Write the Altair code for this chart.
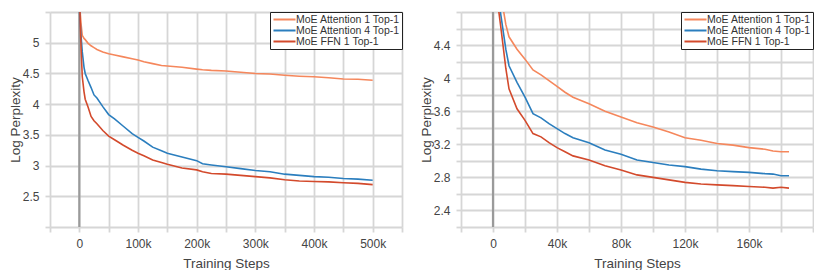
import altair as alt
import pandas as pd

SERIES = ["MoE Attention 1 Top-1", "MoE Attention 4 Top-1", "MoE FFN 1 Top-1"]
COLORS = ["#F5875C", "#2B7EBE", "#D34A2C"]

# Left panel
L_x = [0, 1000, 3000, 5000, 8000, 10000, 15000, 20000, 25000, 30000, 40000, 50000, 60000,
       75000, 90000, 100000, 110000, 125000, 140000, 150000, 175000, 200000, 210000,
       225000, 250000, 275000, 300000, 325000, 350000, 375000, 400000, 425000, 450000,
       475000, 500000]
L_att1 = [5.8, 5.55, 5.3, 5.12, 5.07, 5.05, 4.99, 4.95, 4.92, 4.89, 4.85, 4.82, 4.8,
          4.77, 4.74, 4.72, 4.69, 4.66, 4.63, 4.62, 4.6, 4.57, 4.56,
          4.55, 4.54, 4.52, 4.5, 4.49, 4.47, 4.455, 4.445, 4.43, 4.41,
          4.405, 4.39]
L_att4 = [5.6, 5.4, 5.1, 4.85, 4.6, 4.5, 4.38, 4.27, 4.15, 4.1, 3.96, 3.83, 3.76,
          3.64, 3.52, 3.46, 3.4, 3.3, 3.24, 3.2, 3.14, 3.08, 3.03,
          3.01, 2.98, 2.95, 2.92, 2.9, 2.86, 2.84, 2.82, 2.81, 2.79,
          2.78, 2.76]
L_ffn = [5.8, 5.5, 4.9, 4.45, 4.2, 4.08, 3.95, 3.8, 3.73, 3.68, 3.57, 3.48, 3.42,
         3.33, 3.25, 3.2, 3.16, 3.09, 3.05, 3.02, 2.96, 2.93, 2.9,
         2.87, 2.86, 2.84, 2.82, 2.8, 2.77, 2.75, 2.74, 2.735, 2.72,
         2.71, 2.69]

# Right panel
R_x = [0, 3000, 5000, 8000, 10000, 15000, 20000, 25000, 30000, 35000, 40000, 45000, 50000,
       60000, 70000, 80000, 90000, 100000, 110000, 120000, 130000, 140000, 150000,
       160000, 170000, 175000, 180000, 185000]
R_att1 = [6.0, 5.3, 5.0, 4.65, 4.5, 4.35, 4.23, 4.1, 4.04, 3.97, 3.9, 3.83, 3.77,
          3.69, 3.6, 3.53, 3.46, 3.41, 3.35, 3.28, 3.25, 3.21, 3.19,
          3.16, 3.14, 3.12, 3.11, 3.11]
R_att4 = [6.0, 5.0, 4.75, 4.35, 4.15, 3.95, 3.77, 3.57, 3.52, 3.45, 3.39, 3.33, 3.28,
          3.22, 3.13, 3.08, 3.01, 2.98, 2.95, 2.93, 2.9, 2.88, 2.87,
          2.86, 2.845, 2.84, 2.82, 2.82]
R_ffn = [6.0, 4.9, 4.6, 4.12, 3.87, 3.63, 3.49, 3.33, 3.29, 3.22, 3.16, 3.11, 3.06,
         3.01, 2.94, 2.89, 2.83, 2.8, 2.77, 2.74, 2.72, 2.71, 2.7,
         2.69, 2.68, 2.67, 2.68, 2.67]

L_xticks = list(range(-50000, 550001, 50000))
L_yticks = [2.0, 2.5, 3.0, 3.5, 4.0, 4.5, 5.0, 5.5]
R_xticks = list(range(-20000, 200001, 20000))
R_yticks = [round(2.2 + 0.2 * i, 1) for i in range(14)]

FONT = "Liberation Sans"


def long_df(xs, ys_list):
    rows = []
    for name, ys in zip(SERIES, ys_list):
        for i, (x, y) in enumerate(zip(xs, ys)):
            rows.append({"step": x, "val": y, "series": name, "order": i})
    return pd.DataFrame(rows)


def panel(df, xdom, xticks, xlabel_every, xlabel_max, ydom, yticks, ylabel_expr):
    xs = alt.Scale(domain=xdom, nice=False, zero=False)
    ys = alt.Scale(domain=ydom, nice=False, zero=False)
    xlabel_expr = (
        f"(datum.value % {xlabel_every} == 0) && (datum.value >= 0) && (datum.value <= {xlabel_max}) ? "
        "(datum.value == 0 ? '0' : format(datum.value / 1000, 'd') + 'k') : ''"
    )
    xaxis = alt.Axis(values=xticks, labelExpr=xlabel_expr, labelOverlap=False,
                     title="Training Steps")
    yaxis = alt.Axis(values=yticks, labelExpr=ylabel_expr, labelOverlap=False,
                     title="Log Perplexity")
    lines = alt.Chart(df).mark_line(strokeWidth=1.6, clip=True).encode(
        x=alt.X("step:Q", scale=xs, axis=xaxis),
        y=alt.Y("val:Q", scale=ys, axis=yaxis),
        color=alt.Color("series:N", scale=alt.Scale(domain=SERIES, range=COLORS),
                        legend=alt.Legend(title=None, orient="top-right", offset=0,
                                          strokeColor="#222", fillColor="white",
                                          padding=2, symbolType="M-2.45,0H2.45",
                                          symbolSize=81, symbolStrokeWidth=2,
                                          symbolOffset=7,
                                          labelFontSize=10.5, labelColor="#333",
                                          labelOffset=6, rowPadding=0,
                                          labelFont=FONT)),
        order="order:Q",
    )
    zero = alt.Chart(pd.DataFrame({"step": [0]})).mark_rule(color="#9a9a9a", strokeWidth=2.2).encode(
        x=alt.X("step:Q", scale=xs, axis=xaxis)
    )
    return alt.layer(zero, lines).properties(width=352, height=215)


left = panel(long_df(L_x, [L_att1, L_att4, L_ffn]), [-50000, 550000], L_xticks, 100000, 500000,
             [2.0, 5.5], L_yticks,
             "datum.value >= 2.4 && datum.value <= 5.1 ? format(datum.value, '.1~f') : ''")
right = panel(long_df(R_x, [R_att1, R_att4, R_ffn]), [-20000, 200000], R_xticks, 40000, 160000,
              [2.2, 4.8], R_yticks,
              "(round(datum.value * 10) % 4 == 0) && datum.value > 2.3 && datum.value < 4.7 ? format(datum.value, '.1~f') : ''")

chart = alt.hconcat(left, right, spacing=16).resolve_legend(color="independent").resolve_scale(
    color="independent"
).properties(
    padding={"left": 0, "top": -2, "right": 0, "bottom": 0}
).configure_view(stroke=None).configure_axis(
    domain=False, gridColor="#d6d6d6", gridWidth=1.8, tickColor="#d6d6d6", tickWidth=1.8,
    tickSize=5, labelFont=FONT, titleFont=FONT, labelFontSize=12, titleFontSize=13.5,
    labelColor="#444", titleColor="#444", titleFontWeight="normal",
).configure_axisY(titlePadding=0, labelPadding=6).configure_axisX(titlePadding=7, labelPadding=6)

chart.save("out.html", embed_options={"renderer": "svg", "actions": False})
